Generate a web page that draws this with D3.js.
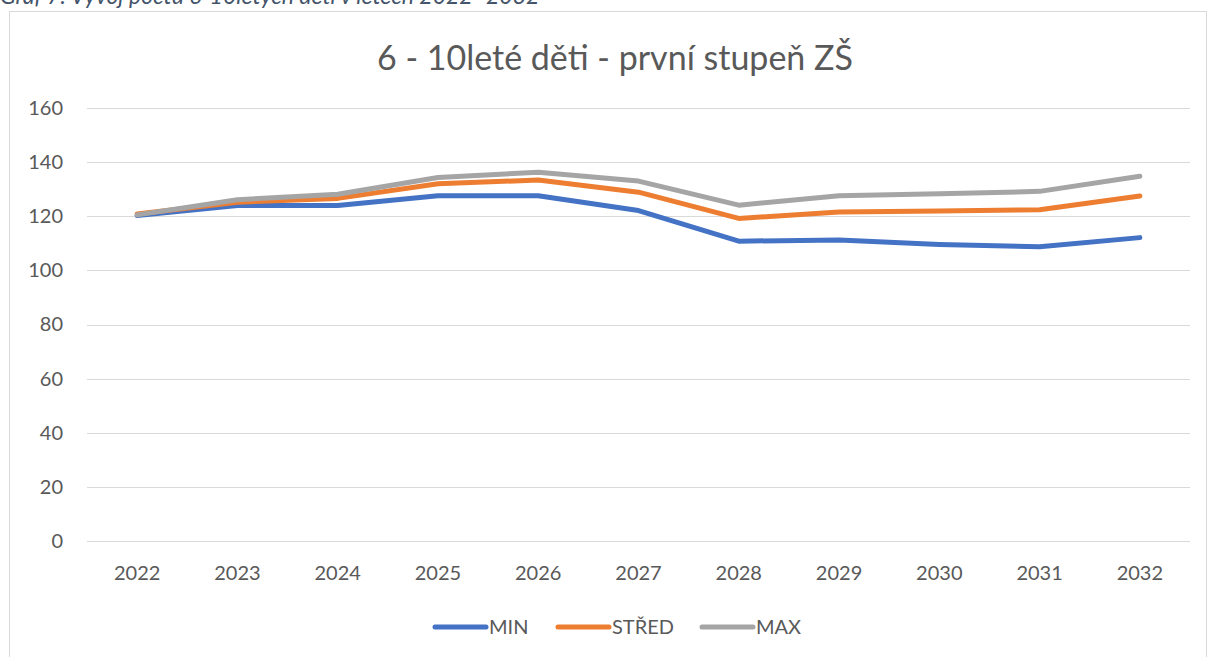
<!DOCTYPE html>
<html>
<head>
<meta charset="utf-8">
<title>6 - 10leté děti</title>
<style>
  body { margin: 0; background: #fff; }
  text { font-family: Lato, "Open Sans", sans-serif; }
</style>
</head>
<body>
<script src="https://d3js.org/d3.v7.min.js"></script>
<script>
// data
var years = ["2022", "2023", "2024", "2025", "2026", "2027", "2028", "2029", "2030", "2031", "2032"];
var minVals = [120.3, 124.0, 124.0, 127.6, 127.6, 122.1, 110.8, 111.2, 109.6, 108.7, 112.1];
var stredVals = [120.8, 125.2, 126.6, 132.0, 133.4, 128.9, 119.2, 121.6, 121.9, 122.4, 127.5];
var maxVals = [120.5, 126.1, 128.1, 134.3, 136.3, 133.0, 124.1, 127.6, 128.3, 129.2, 134.8];
var seriesNames = ["MIN", "STŘED", "MAX"];
var seriesColors = ["#4472C4", "#ED7D31", "#A5A5A5"];
var yTicks = [0, 20, 40, 60, 80, 100, 120, 140, 160];

var W = 1209, H = 657;
var svg = d3.select("body").append("svg")
    .attr("width", W)
    .attr("height", H);

// popisek grafu nahoře (oříznutý)
svg.append("text")
    .attr("x", 0)
    .attr("y", 4)
    .style("font-size", "23px")
    .style("font-style", "italic")
    .style("fill", "#44546A")
    .text("Graf 7: Vývoj počtu 6-10letých dětí v letech 2022–2032");

// rámeček grafu
svg.append("rect")
    .attr("x", 9.5)
    .attr("y", 11.5)
    .attr("width", 1197)
    .attr("height", 660)
    .style("fill", "#fff")
    .style("stroke", "#D9D9D9")
    .style("stroke-width", 1);

svg.append("text")
    .attr("x", 615)
    .attr("y", 70)
    .attr("text-anchor", "middle")
    .style("font-size", "34px")
    .style("fill", "#595959")
    .text("6 - 10leté děti - první stupeň ZŠ");

var xScale = d3.scaleBand().domain(years).range([87, 1190]);
var yScale = d3.scaleLinear().domain([0, 160]).range([541, 108]);

// mřížka
svg.append("g")
    .selectAll("line")
    .data(yTicks)
    .enter()
    .append("line")
    .attr("x1", 87)
    .attr("x2", 1190)
    .attr("y1", function(d) { return Math.round(yScale(d)) + 0.5; })
    .attr("y2", function(d) { return Math.round(yScale(d)) + 0.5; })
    .style("stroke", "#D9D9D9")
    .style("stroke-width", 1);

// osa Y
var yAxis = svg.append("g")
    .attr("transform", "translate(70,0)")
    .call(d3.axisLeft(yScale).tickValues(yTicks).tickSize(0).tickPadding(7));
yAxis.select(".domain").remove();
yAxis.selectAll("text")
    .style("font-family", "Lato, 'Open Sans', sans-serif")
    .style("font-size", "20px")
    .style("fill", "#595959");

// osa X
var xAxis = svg.append("g")
    .attr("transform", "translate(0,541)")
    .call(d3.axisBottom(xScale).tickSize(0).tickPadding(25));
xAxis.select(".domain").remove();
xAxis.selectAll("text")
    .style("font-family", "Lato, 'Open Sans', sans-serif")
    .style("font-size", "20px")
    .style("fill", "#595959");

var allSeries = [minVals, stredVals, maxVals];
var line = d3.line()
    .x(function(d, i) { return xScale(years[i]) + xScale.bandwidth() / 2; })
    .y(function(d) { return yScale(d); });

allSeries.forEach(function(vals, k) {
    svg.append("path")
        .datum(vals)
        .attr("d", line)
        .style("fill", "none")
        .style("stroke", seriesColors[k])
        .style("stroke-width", 5)
        .style("stroke-linecap", "round")
        .style("stroke-linejoin", "round");
});

// legenda
var legendX = [433, 556, 700];
var leg = svg.append("g");
seriesNames.forEach(function(name, k) {
    leg.append("line")
        .attr("x1", legendX[k] + 2)
        .attr("x2", legendX[k] + 53)
        .attr("y1", 627)
        .attr("y2", 627)
        .style("stroke", seriesColors[k])
        .style("stroke-width", 5)
        .style("stroke-linecap", "round");
    leg.append("text")
        .attr("x", legendX[k] + 56)
        .attr("y", 634)
        .style("font-size", "20px")
        .style("fill", "#595959")
        .text(name);
});
</script>
</body>
</html>
